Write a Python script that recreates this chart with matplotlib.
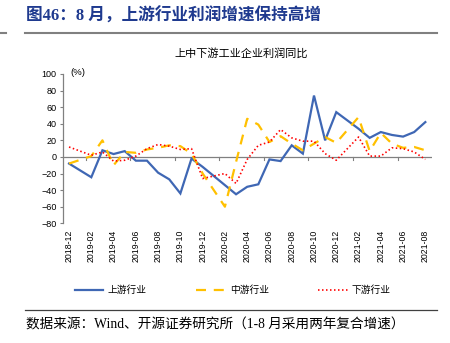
import numpy as np
import matplotlib.pyplot as plt
from matplotlib.lines import Line2D
from matplotlib.transforms import blended_transform_factory

plt.rcParams["font.family"] = ["Liberation Sans", "Noto Sans CJK SC"]

# monthly, 2018-12 .. 2021-08; January is not published (None)
months = ["2018-12", "2019-01", "2019-02", "2019-03", "2019-04", "2019-05",
          "2019-06", "2019-07", "2019-08", "2019-09", "2019-10", "2019-11",
          "2019-12", "2020-01", "2020-02", "2020-03", "2020-04", "2020-05",
          "2020-06", "2020-07", "2020-08", "2020-09", "2020-10", "2020-11",
          "2020-12", "2021-01", "2021-02", "2021-03", "2021-04", "2021-05",
          "2021-06", "2021-07", "2021-08"]
upstream = [-8, None, -24.5, 8, 3.5, 7, -4.5, -4.5, -19, -27, -44, -2,
            -12, None, -34, -45, -36, -33, -3, -5, 14, 4, 74, 20,
            54, None, 34, 23, 30, 26.5, 24.5, 30, 42]
midstream = [-8, None, 1, 20, -10, 6, 5, 9, 11, 14, 13, 4,
             -20, None, -60, -6, 46, 39, 18, 25, 16, 8, 16, 24,
             17, None, 48, 7, 29, 16, 11, 12, 8]
downstream = [12, None, 2, 6, -5, -4, 1, 10, 15, 13, 9, 10,
              -26, None, -20, -32, -3, 14, 18, 33, 23, 19, 19, 4,
              -4, None, 24, 1, 1, 11, 10, 6, -3]
series_names = ["上游行业", "中游行业", "下游行业"]

BLUE = "#3F67B4"
GOLD = "#FFC000"
RED = "#FF0000"
GREY = "#808080"
DASH_MID = (4.5, 3.5)
DOT_LOW = (0.9, 1.5)

fig = plt.figure(figsize=(4.5, 3.43), dpi=100)
ax = fig.add_axes([0.1393, 0.349, 0.82, 0.4353])

x = np.arange(len(months))


def draw(vals, **kw):
    v = np.array([np.nan if a is None else a for a in vals], dtype=float)
    ok = ~np.isnan(v)
    return ax.plot(x[ok], v[ok], **kw)[0]


l1 = draw(upstream, color=BLUE, lw=1.6, solid_joinstyle="miter")
l2 = draw(midstream, color=GOLD, lw=1.6, dashes=DASH_MID)
l3 = draw(downstream, color=RED, lw=1.2, dashes=DOT_LOW)

ax.set_xlim(-0.57, len(months) - 0.43)
ax.set_ylim(-80, 100)
ax.set_yticks(np.arange(-80, 101, 20))
ax.tick_params(axis="y", length=2.5, width=0.8, color=GREY, labelsize=6.5,
               pad=2)
ax.set_xticks(x[::2])
ax.set_xticklabels(months[::2], rotation=90, fontsize=6.3)
ax.tick_params(axis="x", length=0, pad=4.5)

for s in ["top", "right", "bottom"]:
    ax.spines[s].set_visible(False)
ax.spines["left"].set_color(GREY)
ax.spines["left"].set_linewidth(0.9)

# horizontal axis drawn at zero, with short ticks every four months
ax.axhline(0, color=GREY, lw=0.9, zorder=1)
tr = blended_transform_factory(ax.transData, ax.transAxes)
zero_frac = 80 / 180
for t in np.arange(1.5, len(months) - 1, 4):
    ax.plot([t, t], [zero_frac, zero_frac - 0.02], color=GREY, lw=0.8,
            transform=tr, zorder=1)

ax.text(0.02, 1.01, "(%)", transform=ax.transAxes, fontsize=6.8,
        va="center", ha="left")

# chart and figure headings
fig.text(0.535, 0.845, "上中下游工业企业利润同比", ha="center", va="center",
         fontsize=8)
fig.text(0.058, 0.952, "图46：8 月，上游行业利润增速保持高增",
         family=["Liberation Serif", "Noto Sans CJK SC"], weight="bold",
         fontsize=12, color="#1F3A8F", ha="left", va="center")
fig.add_artist(Line2D([0.056, 0.971], [0.904, 0.904], color=GREY, lw=1.5))
fig.add_artist(Line2D([0.0, 0.014], [0.904, 0.904], color=GREY, lw=1.5))

# legend row
legend_y = 1 - 289.5 / 343
for line, name, x0, x1 in [(l1, series_names[0], 75, 103),
                           (l2, series_names[1], 196, 226),
                           (l3, series_names[2], 318, 348)]:
    h = Line2D([x0 / 450, x1 / 450], [legend_y, legend_y],
               color=line.get_color(), lw=line.get_linewidth())
    if line is l2:
        h.set_dashes(DASH_MID)
    if line is l3:
        h.set_dashes(DOT_LOW)
    fig.add_artist(h)
    fig.text((x1 + 4) / 450, legend_y, name, fontsize=7, va="center",
             ha="left")

fig.add_artist(Line2D([0.056, 0.971], [1 - 310 / 343, 1 - 310 / 343],
                      color="#404040", lw=0.9))
fig.text(0.058, 1 - 325 / 343,
         "数据来源：Wind、开源证券研究所（1-8 月采用两年复合增速）",
         family=["Liberation Serif", "Noto Sans CJK SC"], fontsize=9.8,
         ha="left", va="center")

fig.savefig("out.png", dpi=100)
